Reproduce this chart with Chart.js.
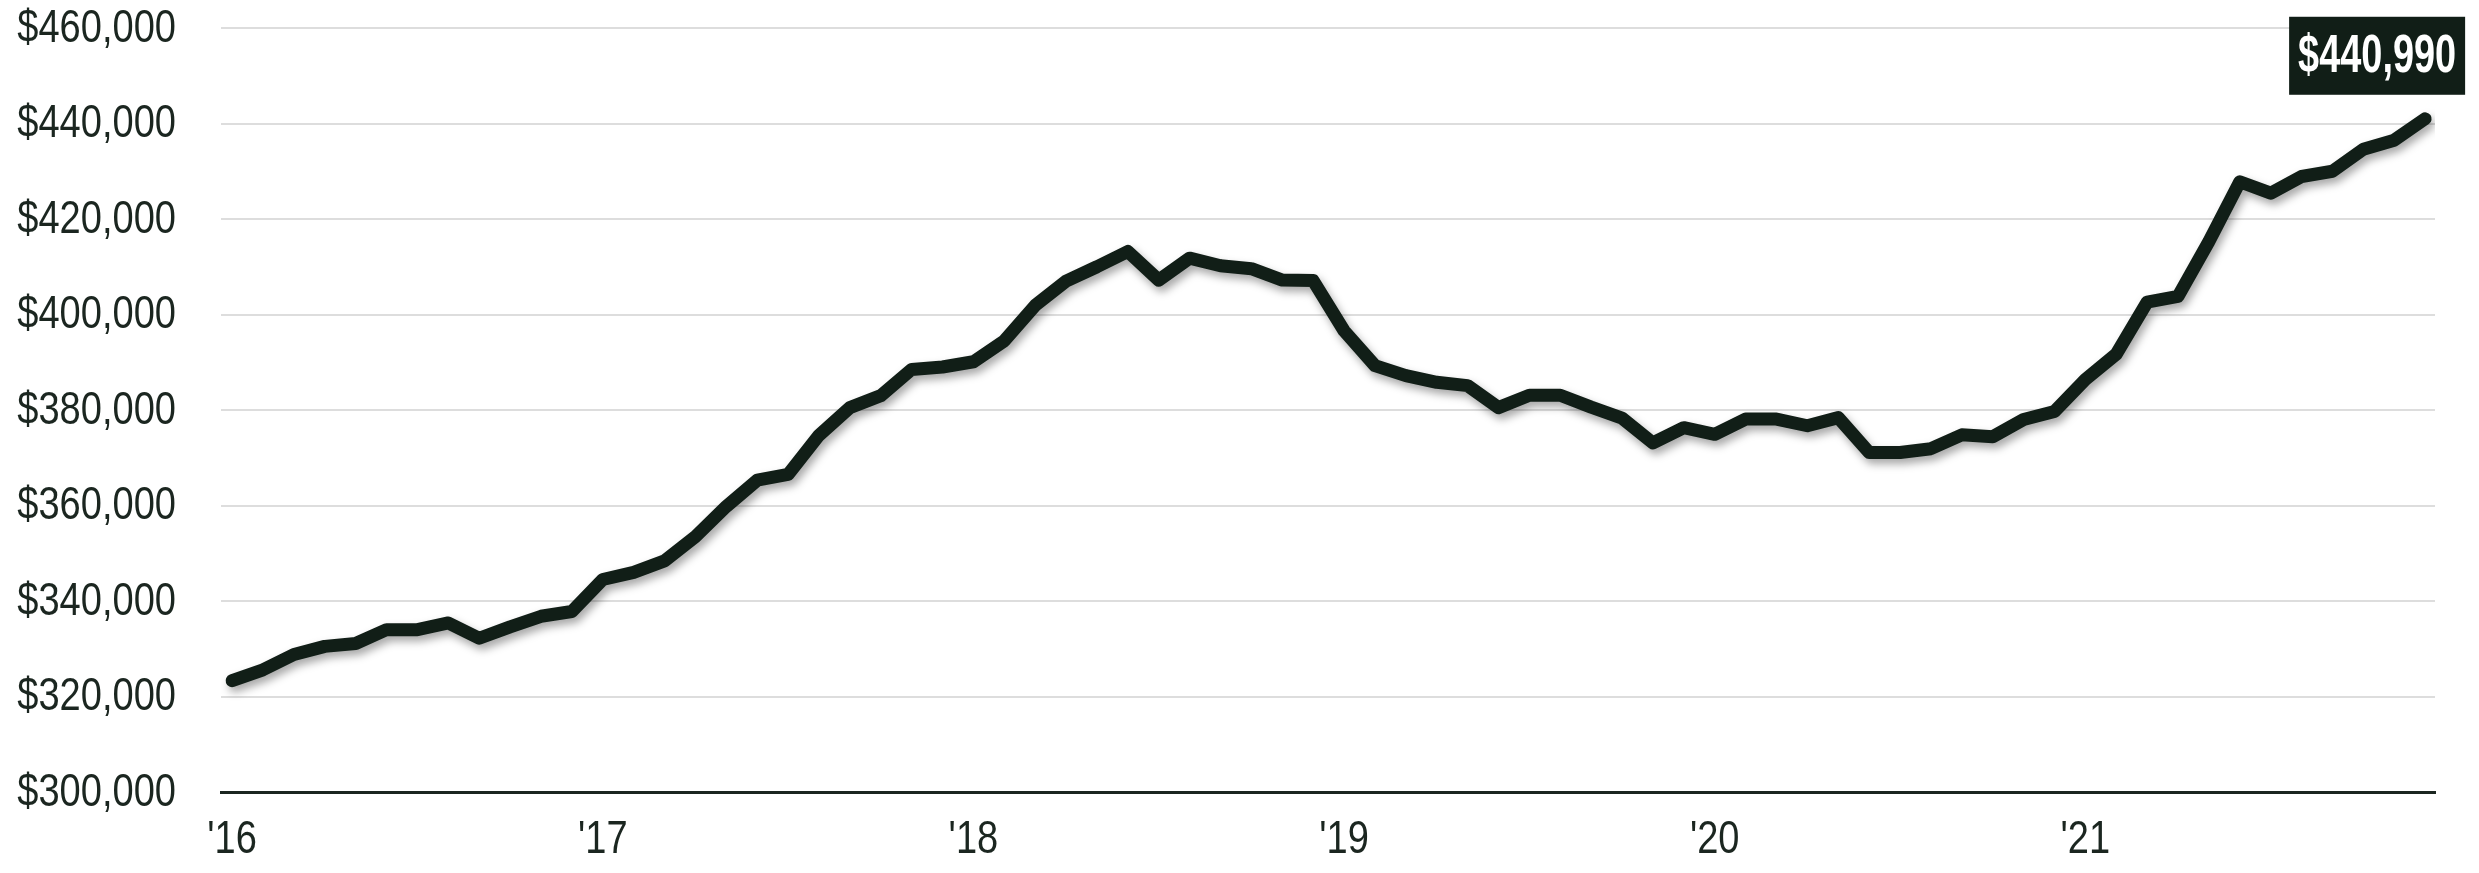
<!DOCTYPE html>
<html>
<head>
<meta charset="utf-8">
<script src="https://cdn.jsdelivr.net/npm/chart.js@4"></script>
<style>
  html, body { margin: 0; padding: 0; background: #fff; }
  #wrap { width: 2479px; height: 873px; }
</style>
</head>
<body>
<div id="wrap"><canvas id="myChart" width="2479" height="873"></canvas></div>
<script>
// monthly median price, Jan 2016 .. Dec 2021
const months = [];
for (let y = 2016; y <= 2021; y++) {
    for (let m = 1; m <= 12; m++) months.push(y + '-' + String(m).padStart(2, '0'));
}
const prices = [
    323300, 325600, 328800, 330500, 331100, 334000, 334000, 335400, 332200, 334600, 336800, 337800,
    344500, 346000, 348400, 353500, 359800, 365300, 366500, 374700, 380500, 383000, 388500, 389000,
    390100, 394500, 401900, 407000, 410000, 413200, 407200, 411800, 410200, 409600, 407200, 407100,
    396600, 389300, 387200, 385800, 385100, 380500, 383100, 383100, 380600, 378300, 373100, 376300,
    374900, 378100, 378100, 376700, 378400, 371100, 371100, 371900, 374800, 374400, 378000, 379700,
    386400, 391700, 402600, 403800, 415300, 427800, 425400, 428900, 430000, 434600, 436500, 440990
];
const yearTicks = [0, 12, 24, 36, 48, 60];
const yearLabels = ["'16", "'17", "'18", "'19", "'20", "'21"];
const yTicks = [300000, 320000, 340000, 360000, 380000, 400000, 420000, 440000, 460000];

const ink = '#111e17';
const textInk = '#1b2620';
const font = "'Liberation Sans', Arial, sans-serif";

const points = prices.map((v, i) => ({ x: i, y: v }));

const money = v => '$' + v.toLocaleString('en-US');

// draw text squeezed horizontally (the source uses a narrow face)
function narrowText(ctx, text, x, y, align, squeeze) {
    ctx.save();
    ctx.translate(x, y);
    ctx.scale(squeeze, 1);
    ctx.textAlign = align;
    ctx.fillText(text, 0, 0);
    ctx.restore();
}

const shadowPlugin = {
    id: 'lineShadow',
    beforeDatasetsDraw(chart) {
        const ctx = chart.ctx;
        ctx.save();
        ctx.shadowColor = 'rgba(0,0,0,0.35)';
        ctx.shadowBlur = 8;
        ctx.shadowOffsetX = 3;
        ctx.shadowOffsetY = 5;
    },
    afterDatasetsDraw(chart) {
        chart.ctx.restore();
    }
};

const tickText = {
    id: 'tickText',
    afterDraw(chart) {
        const ctx = chart.ctx;
        const xs = chart.scales.x, ys = chart.scales.y;
        ctx.save();
        ctx.fillStyle = textInk;
        ctx.font = '47px ' + font;
        ctx.textBaseline = 'middle';
        ys.ticks.forEach(t => {
            narrowText(ctx, money(t.value), 176, ys.getPixelForValue(t.value) + 1, 'right', 0.81);
        });
        xs.ticks.forEach((t, i) => {
            narrowText(ctx, yearLabels[i], xs.getPixelForValue(t.value), 840, 'center', 0.81);
        });
        ctx.restore();
    }
};

const lastLabel = {
    id: 'lastLabel',
    afterDraw(chart) {
        const ctx = chart.ctx;
        const meta = chart.getDatasetMeta(0);
        const pt = meta.data[meta.data.length - 1];
        const text = money(prices[prices.length - 1]);
        const w = 176, h = 78;
        const right = pt.x + 40;
        const bottom = pt.y - 24;
        ctx.save();
        ctx.fillStyle = ink;
        ctx.fillRect(right - w, bottom - h, w, h);
        ctx.font = 'bold 53px ' + font;
        ctx.fillStyle = '#fff';
        ctx.textBaseline = 'middle';
        const tw = ctx.measureText(text).width;
        narrowText(ctx, text, right - w / 2, bottom - h / 2 + 2, 'center', 158 / tw);
        ctx.restore();
    }
};

const config = {
    type: 'line',
    data: {
        datasets: [{
            label: 'Median price',
            data: points,
            borderColor: ink,
            borderWidth: 13,
            borderCapStyle: 'round',
            borderJoinStyle: 'round',
            pointRadius: 0,
            tension: 0,
            fill: false
        }]
    },
    options: {
        responsive: false,
        animation: false,
        layout: { padding: { top: 28, right: 44, left: 0, bottom: 0 } },
        plugins: {
            legend: { display: false },
            tooltip: { enabled: false }
        },
        scales: {
            x: {
                type: 'linear',
                min: -0.36,
                max: 71.32,
                afterBuildTicks: s => { s.ticks = yearTicks.map(v => ({ value: v })); },
                afterFit: s => { s.height = 81; },
                grid: { display: false, drawTicks: false },
                border: { display: true, color: textInk, width: 3 },
                ticks: { display: false }
            },
            y: {
                min: 300000,
                max: 460000,
                afterBuildTicks: s => { s.ticks = yTicks.map(v => ({ value: v })); },
                afterFit: s => { s.width = 221; },
                grid: { color: '#dddddd', lineWidth: 2, drawTicks: false },
                border: { display: false },
                ticks: { display: false }
            }
        }
    },
    plugins: [shadowPlugin, tickText, lastLabel]
};

const myChart = new Chart(document.getElementById('myChart'), config);
</script>
</body>
</html>
